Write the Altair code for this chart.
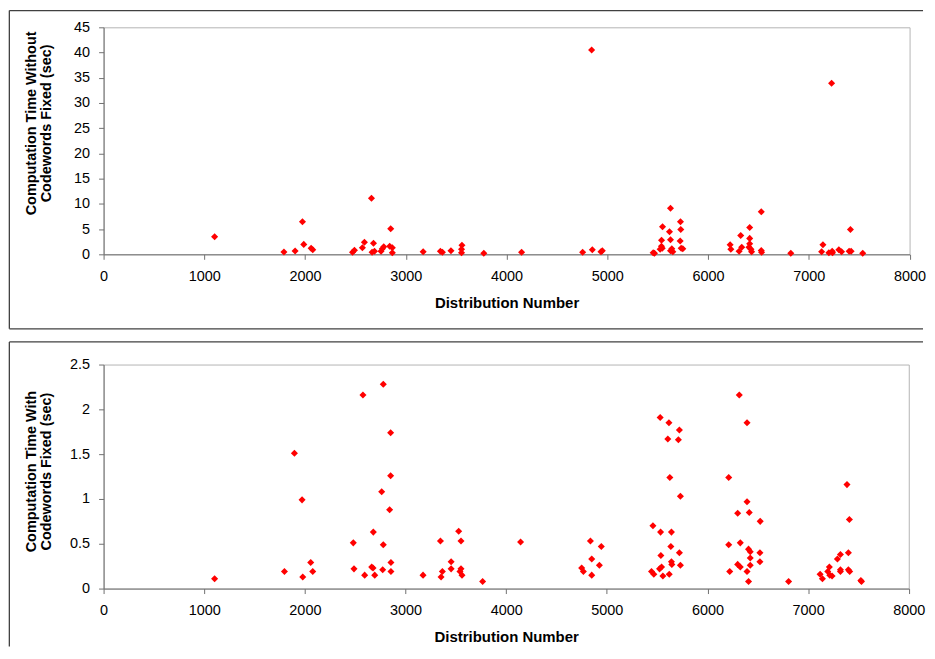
import altair as alt
import pandas as pd

# ---- data ----
top_x = [1102, 1790, 1901, 1974, 1987, 2060, 2076, 2471, 2490, 2569, 2589, 2659, 2679, 2665, 2689,
         2754, 2767, 2781, 2840, 2850, 2866, 2866, 3172, 3343, 3363, 3448, 3553, 3557, 3553, 3774,
         4149, 4844, 4755, 4851, 4937, 4950, 5455, 5468, 5524, 5537, 5538, 5548, 5545, 5617, 5627,
         5627, 5627, 5640, 5650, 5726, 5729, 5723, 5733, 5749, 6219, 6226, 6308, 6324, 6334, 6413,
         6413, 6413, 6406, 6426, 6432, 6528, 6528, 6531, 6821, 7226, 7140, 7127, 7199, 7232, 7235,
         7298, 7325, 7413, 7400, 7420, 7535]
top_y = [3.5, 0.47, 0.67, 6.45, 1.97, 1.2, 0.9, 0.4, 0.8, 1.3, 2.4, 11.1, 2.2, 0.4, 0.6,
         0.6, 1.1, 1.5, 1.6, 5.07, 1.3, 0.3, 0.5, 0.6, 0.4, 0.7, 1.0, 1.8, 0.3, 0.2,
         0.4, 40.5, 0.4, 0.9, 0.5, 0.7, 0.3, 0.2, 1.0, 1.6, 2.77, 5.46, 1.2, 4.48, 9.15,
         2.9, 0.7, 1.1, 0.5, 6.45, 4.94, 2.64, 1.2, 1.1, 1.9, 1.0, 0.6, 3.75, 1.4, 5.33,
         3.16, 2.1, 1.4, 1.0, 0.5, 8.42, 0.75, 0.4, 0.2, 33.9, 1.9, 0.5, 0.3, 0.6, 0.3,
         0.9, 0.5, 4.94, 0.6, 0.6, 0.2]

bot_x = [1103, 1797, 1896, 1972, 1979, 2058, 2078, 2481, 2488, 2577, 2594, 2680, 2664, 2677, 2694,
         2779, 2763, 2779, 2773, 2852, 2852, 2842, 2855, 2855, 3174, 3347, 3366, 3353, 3453, 3453,
         3528, 3551, 3551, 3541, 3561, 3766, 4143, 4750, 4767, 4850, 4837, 4850, 4926, 4945, 5444,
         5467, 5458, 5524, 5544, 5534, 5530, 5617, 5606, 5626, 5537, 5557, 5620, 5642, 5636, 5642,
         5646, 5721, 5711, 5731, 5721, 5731, 6211, 6211, 6221, 6316, 6300, 6326, 6300, 6326, 6393,
         6393, 6415, 6408, 6425, 6425, 6425, 6393, 6408, 6524, 6521, 6521, 6806, 7119, 7142, 7195,
         7211, 7215, 7238, 7291, 7321, 7321, 7321, 7386, 7410, 7400, 7400, 7413, 7524, 7530]
bot_y = [0.11, 0.19, 1.51, 0.99, 0.13, 0.29, 0.19, 0.51, 0.22, 2.16, 0.15, 0.63, 0.24, 0.23, 0.15,
         2.28, 1.08, 0.49, 0.21, 1.74, 1.26, 0.88, 0.29, 0.19, 0.15, 0.53, 0.19, 0.13, 0.30, 0.22,
         0.64, 0.53, 0.22, 0.19, 0.15, 0.08, 0.52, 0.23, 0.19, 0.15, 0.53, 0.33, 0.26, 0.47, 0.19,
         0.16, 0.70, 0.22, 0.24, 0.63, 1.91, 1.85, 1.67, 1.24, 0.37, 0.14, 0.16, 0.63, 0.47, 0.30,
         0.27, 1.77, 1.66, 1.03, 0.40, 0.26, 1.24, 0.49, 0.19, 2.16, 0.84, 0.51, 0.27, 0.24, 1.85,
         0.97, 0.85, 0.44, 0.41, 0.34, 0.26, 0.19, 0.08, 0.75, 0.40, 0.30, 0.08, 0.16, 0.11, 0.19,
         0.24, 0.15, 0.14, 0.33, 0.38, 0.21, 0.19, 1.16, 0.77, 0.40, 0.21, 0.19, 0.09, 0.08]

x_ticks = [0, 1000, 2000, 3000, 4000, 5000, 6000, 7000, 8000]
top_y_ticks = [0, 5, 10, 15, 20, 25, 30, 35, 40, 45]
bot_y_ticks = [0, 0.5, 1, 1.5, 2, 2.5]

top_title = ["Computation Time Without", "Codewords Fixed (sec)"]
bot_title = ["Computation Time With", "Codewords Fixed (sec)"]
x_title = "Distribution Number"

FONT = "Liberation Sans"
FRAME = "#404040"


def frame_lines(x1, x2, y1, y2, bottom):
    one = pd.DataFrame({"k": [0]})
    layers = [
        alt.Chart(one).mark_rule(color=FRAME, strokeWidth=1.3).encode(
            x=alt.value(x1), x2=alt.value(x2), y=alt.value(y1)),
        alt.Chart(one).mark_rule(color=FRAME, strokeWidth=1.3).encode(
            x=alt.value(x1), y=alt.value(y1), y2=alt.value(y2)),
    ]
    if bottom:
        layers.append(alt.Chart(one).mark_rule(color=FRAME, strokeWidth=1.3).encode(
            x=alt.value(x1), x2=alt.value(x2), y=alt.value(y2)))
    return layers


def panel(xs, ys, ytitle, ymax, yticks, w, h, frame, bottom, title_x, title_y):
    df = pd.DataFrame({"x": xs, "y": ys})
    pts = alt.Chart(df).mark_point(
        shape="diamond", filled=True, color="#ff0000", size=50, opacity=1
    ).encode(
        x=alt.X("x:Q", scale=alt.Scale(domain=[0, 8000], nice=False, zero=False),
                axis=alt.Axis(values=x_ticks, format="d", title=x_title,
                              titleY=48, titleBaseline="middle", labelPadding=10,
                              labelFlush=False, labelOverlap=False)),
        y=alt.Y("y:Q", scale=alt.Scale(domain=[0, ymax], nice=False),
                axis=alt.Axis(values=yticks, format="~g", title=ytitle,
                              titleX=title_x, titleY=title_y, titleAngle=270,
                              titleAlign="center", titleBaseline="middle",
                              titleLineHeight=15.5, labelPadding=9,
                              labelFlush=False, labelOverlap=False)),
    )
    return alt.layer(*frame_lines(*frame, bottom), pts).properties(width=w, height=h)


top = panel(top_x, top_y, top_title, 45, top_y_ticks, 809.5, 228,
            (-94.65, 823.0, -16.85, 302.8), True, -72.3, 96)
bot = panel(bot_x, bot_y, bot_title, 2.5, bot_y_ticks, 808.7, 225,
            (-94.65, 823.0, -22.7, 283.3), False, -72.3, 107)

chart = alt.vconcat(top, bot, spacing=10.7).properties(
    padding=0
).configure(
    padding=0
).configure_view(
    stroke="#b4b4b4", strokeWidth=1
).configure_axis(
    grid=False,
    domainColor="#707070",
    tickColor="#707070",
    tickSize=5,
    labelFont=FONT,
    labelFontSize=14.5,
    labelColor="#000000",
    titleFont=FONT,
    titleFontSize=14.5,
    titleFontWeight="bold",
    titleColor="#000000",
).configure_axisX(
    titleFontSize=15
)

chart.save("out.html", embed_options={"renderer": "svg", "actions": False})
